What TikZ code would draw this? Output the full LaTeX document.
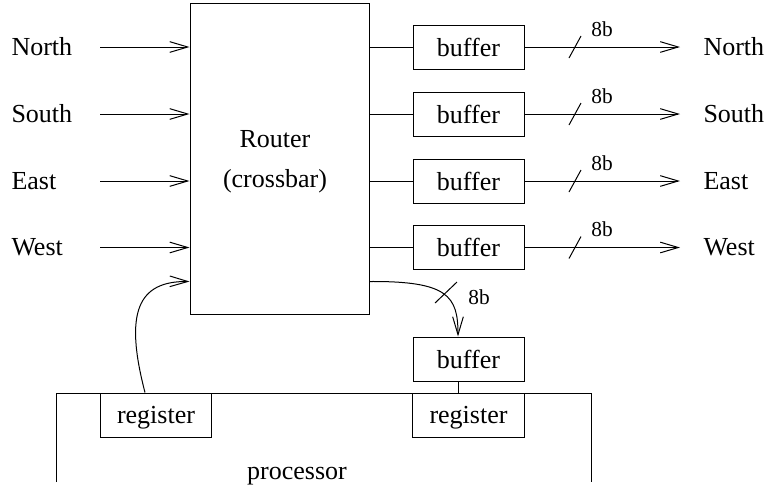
\documentclass[tikz,border=0pt]{standalone}
\usepackage{fontspec}
\setmainfont{Liberation Serif}
\usetikzlibrary{arrows.meta, calc}

\begin{document}
\begin{tikzpicture}[x=0.75pt, y=-0.75pt, line width=0.75pt,
  every node/.style={font=\fontsize{19.5}{30}\selectfont},
  routernode/.style={rectangle, draw, minimum width=134.25pt, minimum height=233.25pt, align=center, inner sep=0pt},
  bufnode/.style={rectangle, draw, minimum width=83.25pt, minimum height=33pt, inner sep=0pt},
  regnode/.style={rectangle, draw, minimum width=83.6pt, minimum height=33pt, inner sep=0pt, text depth=0pt},
  portlabel/.style={anchor=west, inner sep=0pt},
  widthlabel/.style={font=\fontsize{16}{18}\selectfont, inner sep=0pt},
  barb/.style={-{Straight Barb[length=13.5pt, width=8pt]}},
]
\useasboundingbox (0,0) rectangle (766,494);
% crossbar and the four output buffers
\node[routernode] (router) at (279.5,158.5) {};
\node (rtext) at (275,162) [align=center] {Router\\(crossbar)};
\node[bufnode] (b1) at (468.5,47) {buffer}; \node[bufnode] (b2) at (468.5,114) {buffer};
\node[bufnode] (b3) at (468.5,181) {buffer}; \node[bufnode] (b4) at (468.5,247.5) {buffer};
% input ports
\node[portlabel] (l1) at (11,47) {North}; \node[portlabel] (l2) at (11,114) {South};
\node[portlabel] (l3) at (11,181) {East}; \node[portlabel] (l4) at (11,247.5) {West};
\coordinate (i1) at (100,47); \coordinate (i2) at (100,114); \coordinate (i3) at (100,181); \coordinate (i4) at (100,247.5);
\draw[barb] (i1)--(i1 -| router.west); \draw[barb] (i2)--(i2 -| router.west); \draw[barb] (i3)--(i3 -| router.west); \draw[barb] (i4)--(i4 -| router.west);
% output ports
\coordinate (o1) at (680,47); \coordinate (o2) at (680,114); \coordinate (o3) at (680,181); \coordinate (o4) at (680,247.5);
\node[portlabel] (r1) at (703,47) {North}; \node[portlabel] (r2) at (703,114) {South};
\node[portlabel] (r3) at (703,181) {East}; \node[portlabel] (r4) at (703,247.5) {West};
\draw (b1.west -| router.east)--(b1.west); \draw (b2.west -| router.east)--(b2.west); \draw (b3.west -| router.east)--(b3.west); \draw (b4.west -| router.east)--(b4.west);
\draw[barb] (b1.east)--(o1); \draw[barb] (b2.east)--(o2); \draw[barb] (b3.east)--(o3); \draw[barb] (b4.east)--(o4);
% bus width marks
\draw ($(o1)+(-111,11)$)--($(o1)+(-99,-11)$); \node[widthlabel] at ($(o1)+(-78,-18)$) {8b};
\draw ($(o2)+(-111,11)$)--($(o2)+(-99,-11)$); \node[widthlabel] at ($(o2)+(-78,-18)$) {8b};
\draw ($(o3)+(-111,11)$)--($(o3)+(-99,-11)$); \node[widthlabel] at ($(o3)+(-78,-18)$) {8b};
\draw ($(o4)+(-111,11)$)--($(o4)+(-99,-11)$); \node[widthlabel] at ($(o4)+(-78,-18)$) {8b};
% processor with its registers
\draw (56,482)--(56,393)--(591,393)--(591,482);
\node[regnode] (regl) at (156,415) {register};
\node[regnode] (regr) at (468.5,415) {register};
\node (proc) at (297,476) {processor};
\node[bufnode] (bp) at (468.5,359) {buffer};
\draw ([xshift=-7.875pt]bp.south)--([xshift=-7.875pt]bp.south |- regr.north);
% local port in and out
\draw[barb] ([xshift=-8.25pt]regl.north) .. controls (124,312) and (138,281) .. ([yshift=24.75pt]router.south west);
\draw[barb] ([yshift=24.75pt]router.south east) .. controls (448,281) and (458,296) .. ([xshift=-7.875pt]bp.north);
\draw (435,303)--(457,282); \node[widthlabel] at (479,297) {8b};
\end{tikzpicture}
\end{document}
